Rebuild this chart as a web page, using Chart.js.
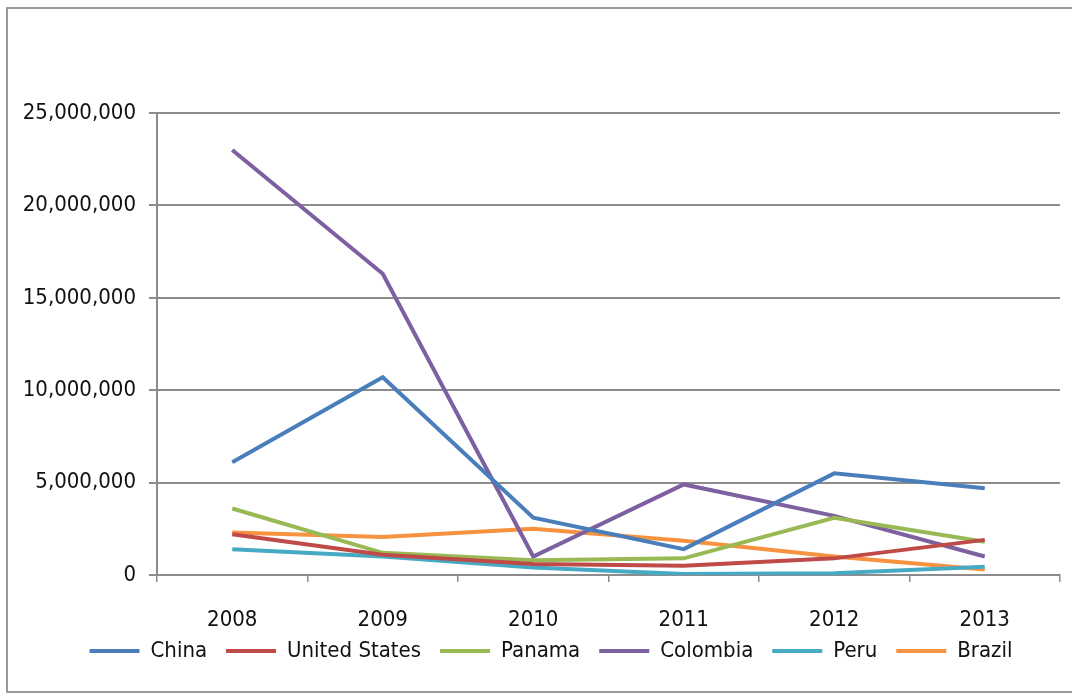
<!DOCTYPE html>
<html>
<head>
<meta charset="utf-8">
<script src="https://cdn.jsdelivr.net/npm/chart.js@4"></script>
<style>
  html, body { margin: 0; padding: 0; background: #fff; }
  #frame {
    position: absolute; left: 6px; top: 7px; width: 1080px; height: 682px;
    border-top: 2px solid #9a9a9a; border-left: 2px solid #9a9a9a; border-bottom: 2px solid #9a9a9a;
  }
  #wrap { position: absolute; left: 0; top: 0; width: 1072px; height: 693px; }
</style>
</head>
<body>
<div id="frame"></div>
<div id="wrap"><canvas id="chart" width="1072" height="693"></canvas></div>
<script>
// Years on the x axis
var years = ["2008", "2009", "2010", "2011", "2012", "2013"];

// Values per country
var china        = [6100000, 10700000, 3100000, 1400000, 5500000, 4700000];
var unitedStates = [2200000, 1100000, 600000, 500000, 900000, 1900000];
var panama       = [3600000, 1200000, 800000, 900000, 3100000, 1800000];
var colombia     = [23000000, 16300000, 1000000, 4900000, 3200000, 1000000];
var peru         = [1400000, 1000000, 400000, 50000, 100000, 450000];
var brazil       = [2300000, 2050000, 2500000, 1850000, 1000000, 300000];

var yTicks = [0, 5000000, 10000000, 15000000, 20000000, 25000000];

var FONT = "'Liberation Sans Narrow', 'DejaVu Sans Condensed', 'Arial Narrow', sans-serif";
var FONT_SIZE = 22;

function makeSet(label, data, color)
{
    return {
        label: label,
        data: data,
        borderColor: color,
        backgroundColor: color,
        borderWidth: 4,
        pointRadius: 0,
        tension: 0,
        fill: false
    };
}

// the legend sits closer to the year labels (and a bit more right) than Chart.js would put it
var legendShift = {
    id: "legendShift",
    afterLayout: function(chart) {
        chart.legend.top -= 12;
        chart.legend.bottom -= 12;
        chart.legend.left += 21;
        chart.legend.right += 21;
    }
};

var ctx = document.getElementById("chart").getContext("2d");
var chart = new Chart(ctx, {
    type: "line",
    data: {
        labels: years,
        datasets: [
            makeSet("China", china, "#4a7ebb"),
            makeSet("United States", unitedStates, "#be4b48"),
            makeSet("Panama", panama, "#98b954"),
            makeSet("Colombia", colombia, "#7d60a0"),
            makeSet("Peru", peru, "#46aac5"),
            makeSet("Brazil", brazil, "#f69240")
        ]
    },
    plugins: [legendShift],
    options: {
        responsive: false,
        animation: false,
        layout: { padding: { top: 113, right: 12, left: 0, bottom: 9 } },
        plugins: {
            tooltip: { enabled: false },
            legend: {
                position: "bottom",
                labels: {
                    usePointStyle: true,
                    pointStyle: "line",
                    pointStyleWidth: 50,
                    padding: 19,
                    color: "#111",
                    font: { family: FONT, size: FONT_SIZE }
                }
            }
        },
        scales: {
            x: {
                offset: true,
                grid: {
                    offset: true,
                    drawOnChartArea: false,
                    drawTicks: true,
                    tickLength: 7,
                    color: "#8c8c8c",
                    lineWidth: 1.5
                },
                border: { color: "#8c8c8c", width: 2 },
                ticks: {
                    padding: 25,
                    color: "#111",
                    maxRotation: 0,
                    font: { family: FONT, size: FONT_SIZE }
                },
                afterFit: function(scale) { scale.height = 58; }
            },
            y: {
                min: 0,
                max: 25000000,
                afterBuildTicks: function(scale) {
                    scale.ticks = yTicks.map(function(v) { return { value: v }; });
                },
                grid: {
                    color: "#8c8c8c",
                    lineWidth: 2,
                    tickLength: 8
                },
                border: { color: "#8c8c8c", width: 2 },
                ticks: {
                    padding: 13,
                    color: "#111",
                    font: { family: FONT, size: FONT_SIZE },
                    callback: function(v) { return Number(v).toLocaleString("en-US"); }
                },
                afterFit: function(scale) { scale.width = 157; }
            }
        }
    }
});
</script>
</body>
</html>
